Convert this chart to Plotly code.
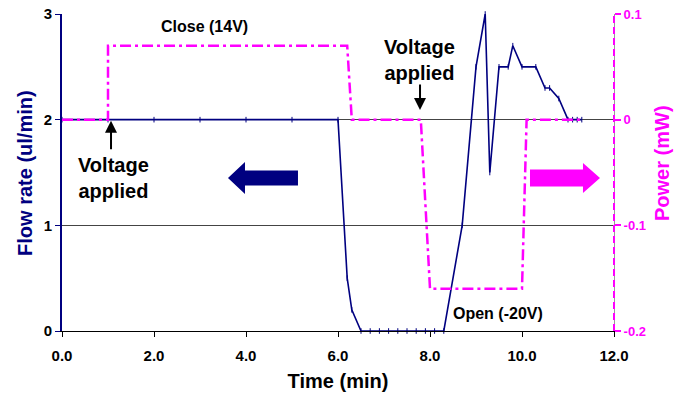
import plotly.graph_objects as go

# ---- data ----
flow_time = [0, 1, 2, 3, 4, 5, 6.0, 6.2, 6.3, 6.5, 6.7, 6.9, 7.1, 7.3, 7.5, 7.7, 7.9, 8.1, 8.3,
             8.7, 9.0, 9.2, 9.3, 9.5, 9.7, 9.8, 10.0, 10.3, 10.5, 10.6, 10.8, 11.0, 11.1, 11.2, 11.3]
flow_rate = [2, 2, 2, 2, 2, 2, 2.0, 0.5, 0.2, 0, 0, 0, 0, 0, 0, 0, 0, 0, 0,
             1.0, 2.5, 3.0, 1.5, 2.5, 2.5, 2.7, 2.5, 2.5, 2.3, 2.3, 2.2, 2.0, 2.0, 2.0, 2.0]

power_time = [0, 1.0, 1.0, 6.2, 6.3, 7.8, 8.0, 10.0, 10.1, 11.3]
power_mw = [0, 0, 0.07, 0.07, 0, 0, -0.16, -0.16, 0, 0]

x_ticks = [0, 2, 4, 6, 8, 10, 12]
x_tick_labels = ["0.0", "2.0", "4.0", "6.0", "8.0", "10.0", "12.0"]
y_ticks = [0, 1, 2, 3]
y2_ticks = [-0.2, -0.1, 0, 0.1]
y2_tick_labels = ["-0.2", "-0.1", "0", "0.1"]

NAVY = "#000080"
MAG = "#FF00FF"
FONT = "Liberation Sans"

fig = go.Figure()
fig.add_trace(go.Scatter(
    x=flow_time, y=flow_rate, mode="lines+markers",
    line=dict(color=NAVY, width=1.6),
    marker=dict(symbol="line-ns", size=4, line=dict(color=NAVY, width=1)),
    yaxis="y", showlegend=False, cliponaxis=False, hoverinfo="skip"))
fig.add_trace(go.Scatter(
    x=power_time, y=power_mw, mode="lines",
    line=dict(color=MAG, width=2.5, dash="11px,4px,3px,4px"),
    yaxis="y2", showlegend=False, hoverinfo="skip"))

annos = [
    dict(text="Close (14V)", x=0.259, y=0.96, font=dict(size=16)),
    dict(text="Voltage<br>applied", x=0.094, y=0.483, font=dict(size=20)),
    dict(text="Voltage<br>applied", x=0.647, y=0.856, font=dict(size=20)),
    dict(text="Open (-20V)", x=0.79, y=0.056, font=dict(size=16)),
    dict(text="Flow rate (ul/min)", x=-0.068, y=0.5, textangle=-90,
         font=dict(size=20, color=NAVY)),
    dict(text="Power (mW)", x=1.087, y=0.53, textangle=-90,
         font=dict(size=20, color=MAG)),
]
anno_list = []
for a in annos:
    f = dict(family=FONT, color="black", weight="bold")
    f.update(a.pop("font"))
    anno_list.append(dict(xref="paper", yref="paper", showarrow=False,
                          xanchor="center", yanchor="middle", font=f, **a))
# thin black arrows
anno_list.append(dict(xref="paper", yref="paper", x=0.0888, y=0.663, ax=0, ay=30,
                      text="", showarrow=True, arrowhead=2, arrowsize=1.2,
                      arrowwidth=2, arrowcolor="black"))
anno_list.append(dict(xref="paper", yref="paper", x=0.6486, y=0.6975, ax=0, ay=-27,
                      text="", showarrow=True, arrowhead=2, arrowsize=1.2,
                      arrowwidth=2, arrowcolor="black"))


def px2paper(xp, yp):
    return (xp - 62) / 552, (330.7 - yp) / 316.4


def block_arrow(pts, color):
    coords = [px2paper(x, y) for x, y in pts]
    path = "M " + " L ".join(f"{x:.4f},{y:.4f}" for x, y in coords) + " Z"
    return dict(type="path", xref="paper", yref="paper", path=path,
                fillcolor=color, line=dict(color=color, width=0))


shapes = [
    block_arrow([(228, 178), (245, 162), (245, 170.5), (298, 170.5), (298, 185.5),
                 (245, 185.5), (245, 194)], NAVY),
    block_arrow([(600, 178), (583, 163), (583, 169.5), (530, 169.5), (530, 186.5),
                 (583, 186.5), (583, 193)], MAG),
    dict(type="line", xref="paper", yref="paper", x0=1, x1=1, y0=0, y1=1,
         line=dict(color=MAG, width=2, dash="7px,4px")),
]

fig.update_layout(
    template="none",
    width=682, height=397,
    margin=dict(l=62, r=68, t=14, b=66, autoexpand=False),
    paper_bgcolor="white", plot_bgcolor="white",
    font=dict(family=FONT, color="black", weight="bold"),
    annotations=anno_list, shapes=shapes, hovermode=False,
    xaxis=dict(range=[0, 12], tickvals=x_ticks, ticktext=x_tick_labels, automargin=False,
               showline=True, linecolor="black", linewidth=1,
               ticks="outside", ticklen=5, tickcolor="black",
               tickfont=dict(size=15, family=FONT, color="black", weight="bold"),
               ticklabelstandoff=6, showgrid=False, zeroline=False,
               title=dict(text="Time (min)", font=dict(size=20, family=FONT, weight="bold"),
                          standoff=10)),
    yaxis=dict(range=[0, 3], tickvals=y_ticks, showline=True, linecolor=NAVY, linewidth=2,
               automargin=False,
               ticks="outside", ticklen=5, tickcolor=NAVY,
               tickfont=dict(size=15, family=FONT, color="black", weight="bold"),
               showgrid=True, gridcolor="#444444", gridwidth=1, zeroline=False),
    yaxis2=dict(range=[-0.2, 0.1], tickvals=y2_ticks, ticktext=y2_tick_labels,
                automargin=False,
                overlaying="y", side="right", showline=True, linecolor="#999999",
                linewidth=1, ticks="outside", ticklen=6, tickcolor=MAG, tickwidth=2,
                tickfont=dict(size=13, family=FONT, color=MAG, weight="bold"),
                showgrid=False, zeroline=False),
)

fig.write_html("out.html", config={"displayModeBar": False},
               post_script="document.body.style.margin='0';document.body.style.overflow='hidden';")
